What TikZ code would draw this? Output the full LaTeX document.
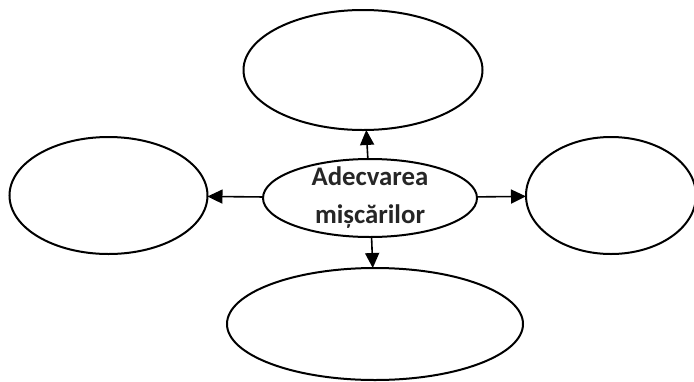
\documentclass[tikz,border=0pt]{standalone}
\usepackage{fontspec}
\setmainfont{Carlito}
\usetikzlibrary{shapes.geometric,arrows.meta}

\tikzset{
  bubble/.style={draw, ellipse, line width=2pt, inner sep=0pt, outer sep=0pt},
  link/.style={line width=1.6pt, -{Triangle[length=15pt,width=14pt]}}
}

\begin{document}
\begin{tikzpicture}[x=1pt, y=-1pt]
            \useasboundingbox (0,0) rectangle (694,381);
            \node (main) [bubble, minimum width=214pt, minimum height=78pt,
              label={[align=center, font=\bfseries\fontsize{26.8}{38}\selectfont, text=black!85]center:Adecvarea\\mișcărilor}] at (370,198) {};
            \node (up) [bubble, minimum width=239pt, minimum height=120pt] at (363,70) {};
            \node (west) [bubble, minimum width=198pt, minimum height=117pt] at (108.5,195.5) {};
            \node (east) [bubble, minimum width=170pt, minimum height=117pt] at (611,195.5) {};
            \node (down) [bubble, minimum width=296pt, minimum height=112pt] at (375,324) {};
            
            \draw[link] (main) -- (up);
            \draw[link] (main) -- (west);
            \draw[link] (main) -- (east);
            \draw[link] (main) -- (down);
        \end{tikzpicture}
\end{document}
